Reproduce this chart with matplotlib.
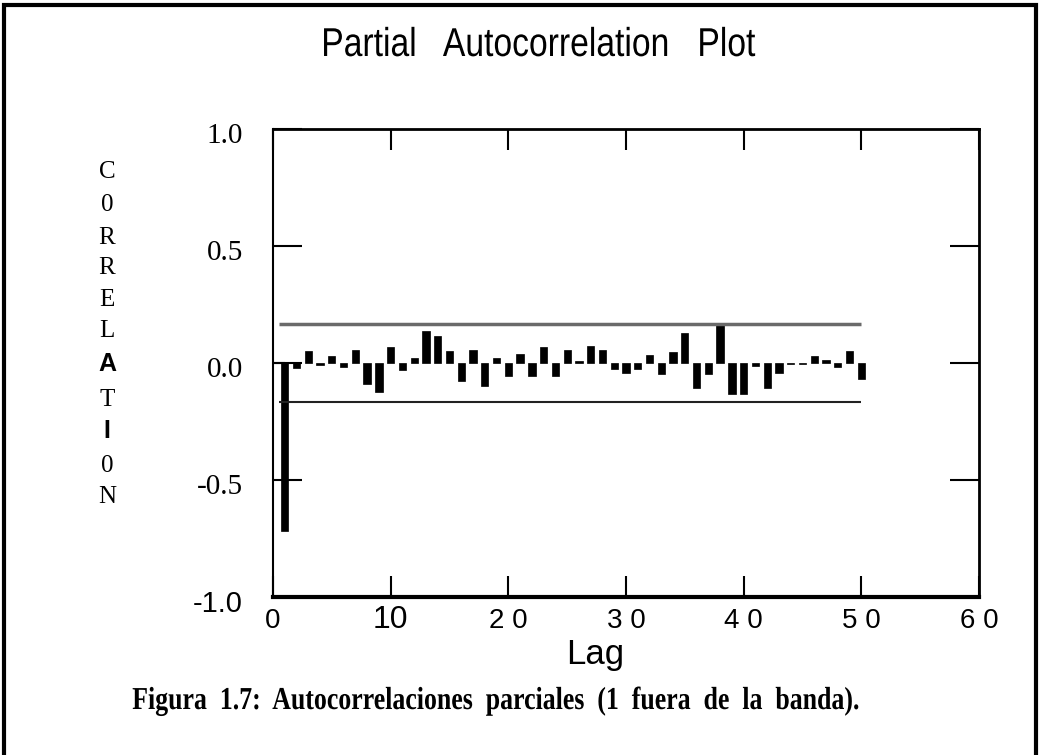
import matplotlib
matplotlib.use("Agg")
import matplotlib.pyplot as plt
from matplotlib.patches import Rectangle
from matplotlib.transforms import blended_transform_factory, Affine2D
from matplotlib.patheffects import AbstractPathEffect

# ---- data ----
lags = list(range(1, 51))
pacf = [-0.72, -0.02, 0.05, -0.01, 0.03, -0.015, 0.057, -0.088, -0.124, 0.07,
        -0.03, 0.023, 0.137, 0.115, 0.051, -0.078, 0.057, -0.098, 0.023, -0.057,
        0.037, -0.057, 0.068, -0.057, 0.056, 0.008, 0.073, 0.054, -0.027, -0.041,
        -0.027, 0.036, -0.048, 0.047, 0.13, -0.105, -0.046, 0.165, -0.134, -0.131,
        -0.013, -0.105, -0.043, -0.005, -0.004, 0.028, 0.014, -0.017, 0.051, -0.07]
band = 0.167
band_start, band_end = 0.5, 50.0
xticks = [0, 10, 20, 30, 40, 50, 60]
xticklabels = ["0", "10", "2 0", "3 0", "4 0", "5 0", "6 0"]
yticks = [1.0, 0.5, 0.0, -0.5, -1.0]
yticklabels = ["1.0", "0.5", "0.0", "-0.5", "-1.0"]
ylabel_letters = ["C", "0", "R", "R", "E", "L", "A", "T", "I", "0", "N"]
title = "Partial   Autocorrelation   Plot"
xlabel = "Lag"
caption = "Figura  1.7:  Autocorrelaciones  parciales  (1  fuera  de  la  banda)."


class Condense(AbstractPathEffect):
    """Horizontally squeeze a text path about its own centre."""

    def __init__(self, sx=1.0):
        super().__init__()
        self.sx = sx

    def draw_path(self, renderer, gc, tpath, affine, rgbFace=None):
        ext = tpath.get_extents()
        cx = 0.5 * (ext.x0 + ext.x1)
        t = Affine2D().translate(-cx, 0).scale(self.sx, 1.0).translate(cx, 0) + affine
        renderer.draw_path(gc, tpath, t, rgbFace)


W, H = 1040, 755
fig = plt.figure(figsize=(W / 100, H / 100), dpi=100)
fig.patch.set_facecolor("white")
renderer = fig.canvas.get_renderer()

SERIF = ["Liberation Serif", "DejaVu Serif"]
SANS = ["Liberation Sans", "DejaVu Sans"]


def fit_width(txt, target_px):
    w = txt.get_window_extent(renderer=renderer).width
    txt.set_path_effects([Condense(min(1.0, target_px / w))])


# outer frame (bottom edge falls outside the picture)
fig.patches.append(Rectangle((4 / W, -0.05), 1032 / W, 1.05 - 5 / H,
                             transform=fig.transFigure, fill=False,
                             edgecolor="black", linewidth=3))

ax = fig.add_axes([273 / W, (H - 597) / H, (979 - 273) / W, (597 - 129) / H])
ax.set_xlim(0, 60)
ax.set_ylim(-1.0, 1.0)

ax.bar(lags, pacf, width=0.62, color="black", edgecolor="black", linewidth=0.5)
ax.hlines(0, 0, 1, color="black", linewidth=1.5)
ax.hlines(band, band_start, band_end, color="#6a6a6a", linewidth=2.5)
ax.hlines(-band, band_start, band_end, color="#222222", linewidth=1.5)

for side, lw in (("left", 1.5), ("bottom", 3.0), ("top", 2.0), ("right", 2.0)):
    ax.spines[side].set_linewidth(lw)

ax.set_xticks(xticks)
ax.set_xticklabels([])
ax.set_yticks(yticks)
ax.set_yticklabels([])
ax.tick_params(axis="x", direction="in", length=15, width=1.5, top=True, bottom=True)
ax.tick_params(axis="y", direction="in", length=21, width=1.5, left=True, right=True)

# x tick labels: x in data coords, y in figure coords
xtr = blended_transform_factory(ax.transData, fig.transFigure)
for t, lab in zip(xticks, xticklabels):
    size = 23 if lab == "10" else 20
    ax.text(t, (H - 628) / H, lab, transform=xtr, ha="center", va="baseline",
            fontsize=size, family=SANS, clip_on=False)

# y tick labels: y in data coords, x in figure coords
ytr = blended_transform_factory(fig.transFigure, ax.transData)
for t, lab in zip(yticks, yticklabels):
    fam = SANS if lab == "-1.0" else SERIF
    ax.text(243 / W, t - 0.03, lab, transform=ytr, ha="right", va="center",
            fontsize=21, family=fam, clip_on=False)

# vertical stacked y label
ypos = [172, 205, 238, 268, 300, 331, 364, 400, 431, 466, 497]
for letter, yp in zip(ylabel_letters, ypos):
    if letter in ("A", "I"):
        fig.text(107 / W, (H - yp) / H, letter, ha="center", va="center",
                 fontsize=18, family=SANS, weight="bold")
    else:
        fig.text(107 / W, (H - yp) / H, letter, ha="center", va="center",
                 fontsize=18, family=SERIF)

t_title = fig.text(538 / W, (H - 56) / H, title, ha="center", va="baseline",
                   fontsize=29, family=SANS)
fit_width(t_title, 434)

t_lab = fig.text(595 / W, (H - 664) / H, xlabel, ha="center", va="baseline",
                 fontsize=25, family=SANS)

t_cap = fig.text(497 / W, (H - 709) / H, caption, ha="center", va="baseline",
                 fontsize=23, family=SERIF, weight="bold")
fit_width(t_cap, 729)

fig.savefig("out.png", dpi=100, facecolor="white")
